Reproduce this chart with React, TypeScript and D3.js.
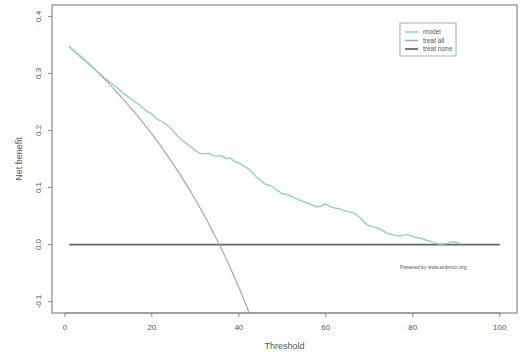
import React, { useEffect } from 'react';
import * as d3 from 'd3';

// thresholds (%) and net benefit
const modelX = [1, 2, 3, 4, 5, 6, 7, 8, 9, 10, 11, 12, 13, 14, 15, 16, 17, 18, 19, 20,
  21, 22, 23, 24, 25, 26, 27, 28, 29, 30, 31, 32, 33, 34, 35, 36, 37, 38, 39, 40,
  41, 42, 43, 44, 45, 46, 47, 48, 49, 50, 51, 52, 53, 54, 55, 56, 57, 58, 59, 60,
  61, 62, 63, 64, 65, 66, 67, 68, 69, 70, 71, 72, 73, 74, 75, 76, 77, 78, 79, 80,
  81, 82, 83, 84, 85, 86, 87, 88, 89, 90, 91];
const modelY = [0.347, 0.340, 0.333, 0.326, 0.320, 0.313, 0.306, 0.300, 0.293, 0.287,
  0.281, 0.275, 0.268, 0.262, 0.257, 0.250, 0.246, 0.239, 0.233, 0.229,
  0.221, 0.217, 0.212, 0.207, 0.198, 0.190, 0.183, 0.177, 0.171, 0.165,
  0.160, 0.159, 0.160, 0.156, 0.155, 0.156, 0.151, 0.152, 0.146, 0.143,
  0.138, 0.134, 0.127, 0.119, 0.113, 0.106, 0.104, 0.100, 0.094, 0.089,
  0.088, 0.085, 0.081, 0.078, 0.075, 0.072, 0.069, 0.066, 0.068, 0.071,
  0.067, 0.064, 0.063, 0.060, 0.058, 0.056, 0.053, 0.046, 0.038, 0.033,
  0.031, 0.029, 0.025, 0.020, 0.018, 0.016, 0.015, 0.017, 0.017, 0.014,
  0.012, 0.011, 0.008, 0.006, 0.003, 0.001, 0.001, 0.002, 0.005, 0.004, 0.001];

const allX = [1, 5, 10, 15, 20, 25, 30, 35, 40, 43];
const allY = [0.347, 0.321, 0.283, 0.241, 0.194, 0.140, 0.079, 0.008, -0.075, -0.132];

const noneX = [1, 100];
const noneY = [0, 0];

const xTicks = [0, 20, 40, 60, 80, 100];
const yTicks = [-0.1, 0.0, 0.1, 0.2, 0.3, 0.4];

const legendLabels = ['model', 'treat all', 'treat none'];
const colors = ['#8fd3c6', '#a2a2d6', '#4a4a4a'];

const W = 525;
const H = 361;
const font = '"Liberation Sans", Arial, sans-serif';

export default function App() {
  useEffect(() => {
    document.body.style.margin = '0';
  }, []);

  const x = d3.scaleLinear().domain([-2.96, 103.96]).range([52, 517]);
  const y = d3.scaleLinear().domain([-0.12, 0.42]).range([313, 5]);

  const line = d3.line<[number, number]>()
    .x(d => x(d[0]))
    .y(d => y(d[1]));
  const smooth = d3.line<[number, number]>()
    .x(d => x(d[0]))
    .y(d => y(d[1]))
    .curve(d3.curveMonotoneX);

  const model = modelX.map((v, i) => [v, modelY[i]] as [number, number]);
  const all = allX.map((v, i) => [v, allY[i]] as [number, number]);
  const none = noneX.map((v, i) => [v, noneY[i]] as [number, number]);

  const [x0, x1] = x.range();
  const [y0, y1] = y.range();
  const tc = '#555';

  return (
    <svg width={W} height={H} style={{ display: 'block', background: '#fff' }} fontFamily={font}>
      <defs>
        <clipPath id="plot">
          <rect x={x0} y={y1} width={x1 - x0} height={y0 - y1} />
        </clipPath>
      </defs>

      <g clipPath="url(#plot)" fill="none">
        <path d={line(none) || ''} stroke={colors[2]} strokeWidth={1.8} opacity={0.85} />
        <path d={smooth(all) || ''} stroke={colors[1]} strokeWidth={1.2} />
        <path d={line(model) || ''} stroke={colors[0]} strokeWidth={1.4} />
      </g>

      <rect x={x0} y={y1} width={x1 - x0} height={y0 - y1} fill="none" stroke="#888" strokeWidth={1.2} />

      {xTicks.map(t => (
        <g key={`x${t}`}>
          <line x1={x(t)} x2={x(t)} y1={y0} y2={y0 + 4} stroke="#888" />
          <text x={x(t)} y={330} fontSize={8} fill={tc} textAnchor="middle">{t}</text>
        </g>
      ))}
      <line x1={x(0)} x2={x(100)} y1={y0} y2={y0} stroke="#888" />

      {yTicks.map(t => (
        <g key={`y${t}`}>
          <line x1={x0} x2={x0 - 4} y1={y(t)} y2={y(t)} stroke="#888" />
          <text transform={`translate(41,${y(t)}) rotate(-90)`} fontSize={8} fill={tc} textAnchor="middle">
            {t.toFixed(1)}
          </text>
        </g>
      ))}

      <text x={(x0 + x1) / 2} y={349} fontSize={9} fill={tc} textAnchor="middle">Threshold</text>
      <text transform={`translate(22,${(y0 + y1) / 2}) rotate(-90)`} fontSize={9} fill={tc} textAnchor="middle">
        Net benefit
      </text>

      <g>
        <rect x={400} y={23} width={56} height={33} fill="#fff" stroke="#999" strokeWidth={0.8} />
        {legendLabels.map((l, i) => (
          <g key={l}>
            <line x1={405} x2={418} y1={32 + i * 8.5} y2={32 + i * 8.5} stroke={colors[i]} strokeWidth={1.5} />
            <text x={423} y={34.2 + i * 8.5} fontSize={6.5} fill={tc}>{l}</text>
          </g>
        ))}
      </g>

      <text x={400} y={269} fontSize={5} fill={tc}>Powered by www.ardencn.org</text>
    </svg>
  );
}
